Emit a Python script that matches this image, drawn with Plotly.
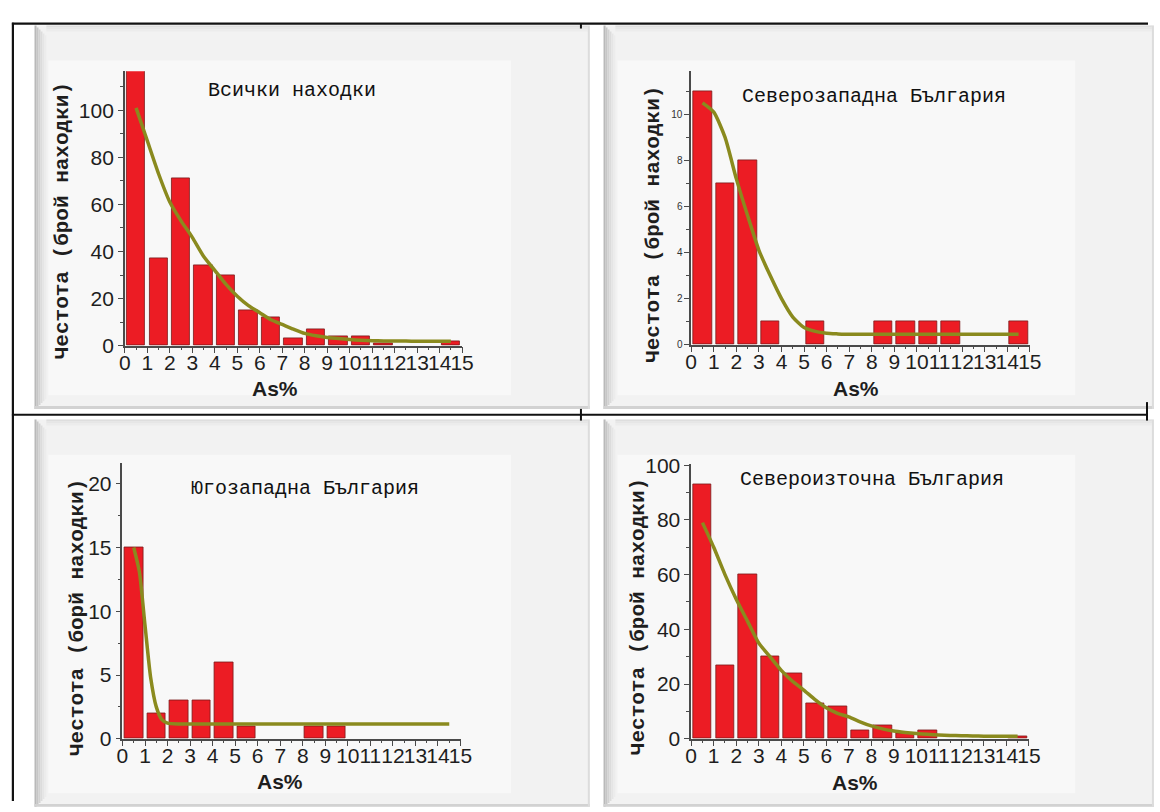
import plotly.graph_objects as go

W, H = 1160, 812

# ---------------- data ----------------
bins = list(range(15))
bin_centers = [b + 0.5 for b in bins]
tick_labels = [str(i) for i in range(16)]

titles = ["Всички находки", "Северозападна България",
          "Югозападна България", "Североизточна България"]
y_titles = ["Честота (брой находки)", "Честота (брой находки)",
            "Честота (борй находки)", "Честота (брой находки)"]
x_title = "As%"

counts_all = [117, 37, 71, 34, 30, 15, 12, 3, 7, 4, 4, 1, 0, 0, 2]
counts_nw = [11, 7, 8, 1, 0, 1, 0, 0, 1, 1, 1, 1, 0, 0, 1]
counts_sw = [15, 2, 3, 3, 6, 1, 0, 0, 1, 1, 0, 0, 0, 0, 0]
counts_ne = [93, 27, 60, 30, 24, 13, 12, 3, 5, 2, 3, 0, 0, 0, 1]

fit_x = [0.5, 1, 1.5, 2, 2.5, 3, 3.5, 4, 4.5, 5, 5.5, 6, 6.5, 7, 7.5, 8, 8.5, 9,
         9.5, 10, 10.5, 11, 11.5, 12, 12.5, 13, 13.5, 14, 14.5]
fit_all = [101, 87, 73, 61, 53, 46, 38, 32, 26, 21, 17, 14, 11, 9, 7, 5.2, 4.2, 3.5,
           3.0, 2.6, 2.3, 2.1, 2.0, 2.0, 1.95, 1.9, 1.9, 1.9, 1.9]
fit_nw = [10.5, 10.1, 9.0, 7.2, 5.6, 4.1, 3.0, 2.0, 1.2, 0.75, 0.58, 0.5, 0.47, 0.45,
          0.45, 0.45, 0.45, 0.45, 0.45, 0.45, 0.45, 0.45, 0.45, 0.45, 0.45, 0.45,
          0.45, 0.45, 0.45]
fit_sw_x = [0.5, 0.75, 1, 1.25, 1.5, 1.75, 2, 2.5, 3, 3.5, 4, 5, 6, 7, 8, 9, 10, 11,
            12, 13, 14, 14.5]
fit_sw = [15.0, 13.1, 8.9, 4.8, 2.5, 1.5, 1.22, 1.15, 1.15, 1.15, 1.15, 1.15, 1.15,
          1.15, 1.15, 1.15, 1.15, 1.15, 1.15, 1.15, 1.15, 1.15]
fit_ne = [79, 70, 60, 51, 43, 35, 30, 25, 21, 17.8, 14.3, 11.3, 9.3, 8.0, 6.2, 4.7,
          3.6, 2.8, 2.3, 1.9, 1.6, 1.4, 1.2, 1.1, 1.0, 0.95, 0.9, 0.9, 0.9]

y_ranges = [[0, 116.5], [0, 11.87], [0, 21.6], [0, 100.3]]
y_dticks = [20, 2, 5, 20]
y_minor = [10, 1, 2.5, 10]
y_tickfont = [21, 10, 21, 21]

# ---------------- layout helpers ----------------
def px(x):
    return x / W

def py(y):
    return 1 - y / H

# plot-area pixel boxes (x0, x1, ybottom, ytop)
boxes = [(120.7, 463.3, 344, 62), (696, 1040, 343, 62),
         (118.3, 461.7, 748, 465), (696, 1039, 748, 466)]

BAR_COLOR = "#ec1c24"
FIT_COLOR = "#8a8a1e"
AX_COLOR = "#4a4a4a"
TXT = "#1e1e1e"

fig = go.Figure()
counts = [counts_all, counts_nw, counts_sw, counts_ne]
fits = [(fit_x, fit_all), (fit_x, fit_nw), (fit_sw_x, fit_sw), (fit_x, fit_ne)]

for i in range(4):
    xa = "x" if i == 0 else f"x{i+1}"
    ya = "y" if i == 0 else f"y{i+1}"
    bx = [c for c, v in zip(bin_centers, counts[i]) if v > 0]
    by = [v for v in counts[i] if v > 0]
    fig.add_trace(go.Bar(x=bx, y=by, width=0.82, xaxis=xa, yaxis=ya,
                         marker=dict(color=BAR_COLOR, line=dict(color="#7a1a1a", width=0.8)),
                         hoverinfo="skip"))
    fig.add_trace(go.Scatter(x=fits[i][0], y=fits[i][1], mode="lines", xaxis=xa, yaxis=ya,
                             line=dict(color=FIT_COLOR, width=3.5, shape="spline", smoothing=0.6),
                             hoverinfo="skip"))

layout = dict(width=W, height=H, margin=dict(l=0, r=0, t=0, b=0),
              paper_bgcolor="white", plot_bgcolor="rgba(0,0,0,0)",
              showlegend=False, bargap=0)

for i, (x0, x1, yb, yt) in enumerate(boxes):
    sfx = "" if i == 0 else str(i + 1)
    layout["xaxis" + sfx] = dict(
        domain=[px(x0), px(x1)], range=[0, 15], anchor="y" + sfx,
        tickmode="array", tickvals=list(range(16)), ticktext=tick_labels, tickangle=0,
        ticks="outside", ticklen=6, tickwidth=1.2, tickcolor=AX_COLOR,
        ticklabelstandoff=-9,
        minor=dict(ticks="outside", ticklen=3, tickwidth=1, tickcolor=AX_COLOR,
                   tickmode="linear", tick0=0, dtick=0.5),
        showline=True, linecolor=AX_COLOR, linewidth=1.5, showgrid=False, zeroline=False,
        tickfont=dict(family="Liberation Sans, Arial", size=21, color=TXT), fixedrange=True)
    layout["yaxis" + sfx] = dict(
        domain=[py(yb), py(yt)], range=y_ranges[i], anchor="x" + sfx,
        tickmode="linear", tick0=0, dtick=y_dticks[i],
        ticks="outside", ticklen=5, tickwidth=1.2, tickcolor=AX_COLOR,
        minor=dict(ticks="outside", ticklen=3, tickwidth=1, tickcolor=AX_COLOR,
                   tickmode="linear", tick0=0, dtick=y_minor[i]),
        showline=True, linecolor=AX_COLOR, linewidth=1.5, showgrid=False, zeroline=False,
        tickfont=dict(family="Liberation Sans, Arial", size=y_tickfont[i],
                      color="#333" if i == 1 else TXT), fixedrange=True)

fig.update_layout(**layout)

# ---------------- frames (bevelled picture look) ----------------
shapes = []

def rect(x0, y0, x1, y1, fill, layer="below"):
    shapes.append(dict(type="rect", xref="paper", yref="paper",
                       x0=px(x0), x1=px(x1), y0=py(y1), y1=py(y0),
                       fillcolor=fill, line=dict(width=0), layer=layer))

def line(x0, y0, x1, y1, color, width):
    shapes.append(dict(type="line", xref="paper", yref="paper",
                       x0=px(x0), x1=px(x1), y0=py(y0), y1=py(y1),
                       line=dict(color=color, width=width), layer="above"))

frames = [(29, 15, 593, 409), (607, 15, 1166, 409), (29, 420, 593, 818), (607, 420, 1166, 818)]
left_grad = ["#b9b9b9", "#c6c6c6", "#d2d2d2", "#dcdcdc", "#e5e5e5", "#ececec"]
top_grad = ["#dedede", "#e6e6e6", "#ececec"]
for (x0, y0, x1, y1) in frames:
    rect(x0, y0, x1, y1, "#f2f2f2")
    rect(x0 + 14, y0 + 36, x1 - 80, y1 - 14, "#f8f8f8")
    for k, c in enumerate(left_grad):
        rect(x0 + 2 * k, y0 + 2 * k, x0 + 2 * k + 2, y1 - 2 * k, c)
    for k, c in enumerate(top_grad):
        rect(x0 + 12, y0 + 2 * k, x1 - 2, y0 + 2 * k + 2, c)
    rect(x0, y1 - 3, x1, y1, "#d2d2d2")
    rect(x1 - 2, y0, x1, y1, "#dcdcdc")

# table lines
line(6, 13, 1160, 13, "#111", 2.2)
line(7, 12, 7, 812, "#111", 2.2)
line(6, 415, 1160, 415, "#111", 2.2)
line(584, 13, 584, 18, "#111", 2)
line(584, 409, 584, 421, "#111", 2)
line(1159, 402, 1159, 421, "#111", 2)

fig.update_layout(shapes=shapes)

# ---------------- text ----------------
ann = []
title_pos = [(291, 82), (882, 88), (304, 491), (880, 482)]
ytitle_pos = [(57, 216), (657, 219), (72, 623), (642, 623)]
xtitle_pos = [(273, 388), (863, 388), (278, 792), (862, 793)]
for i in range(4):
    ann.append(dict(x=px(title_pos[i][0]), y=py(title_pos[i][1]), xref="paper", yref="paper",
                    text=titles[i], showarrow=False, xanchor="center", yanchor="middle",
                    font=dict(family="Liberation Mono, Courier New, monospace", size=20, color="#111")))
    ann.append(dict(x=px(ytitle_pos[i][0]), y=py(ytitle_pos[i][1]), xref="paper", yref="paper",
                    text="<b>" + y_titles[i] + "</b>", showarrow=False, textangle=-90,
                    xanchor="center", yanchor="middle",
                    font=dict(family="Liberation Mono, Courier New, monospace", size=21, color=TXT)))
    ann.append(dict(x=px(xtitle_pos[i][0]), y=py(xtitle_pos[i][1]), xref="paper", yref="paper",
                    text="<b>" + x_title + "</b>", showarrow=False, xanchor="center", yanchor="middle",
                    font=dict(family="Liberation Sans, Arial", size=21, color=TXT)))
fig.update_layout(annotations=ann)

fig.write_html("out.html")
